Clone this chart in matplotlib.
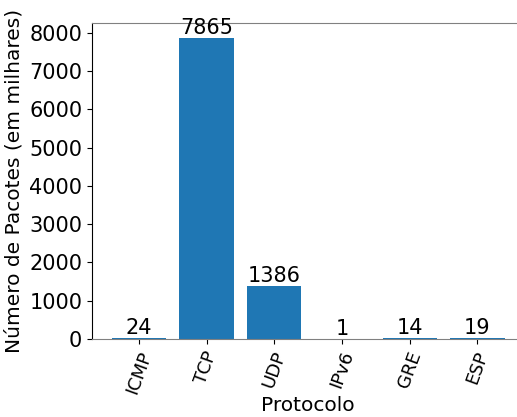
import matplotlib

matplotlib.use("Agg")
import matplotlib.pyplot as plt
from matplotlib.ticker import MultipleLocator
import numpy as np

protocolos = ["ICMP", "TCP", "UDP", "IPv6", "GRE", "ESP"]
pacotes = [24, 7865, 1386, 1, 14, 19]

fig = plt.figure(figsize=(5.17, 4.17), dpi=100)
ax = fig.add_axes([0.178, 0.187, 0.836, 0.758])

x = np.arange(len(protocolos))
bars = ax.bar(x, pacotes, color="#1f77b4")
for rect, v in zip(bars, pacotes):
    ax.text(rect.get_x() + rect.get_width() / 2, rect.get_height(), str(v),
            ha="center", va="bottom", fontsize=15)

ax.set_xticks(x)
ax.set_xticklabels(protocolos, rotation=70, fontsize=13)
ax.yaxis.set_major_locator(MultipleLocator(1000))
ax.tick_params(axis="y", labelsize=15)
ax.set_xlabel("Protocolo", fontsize=14.5, labelpad=0)
ax.set_ylabel("Número de Pacotes (em milhares)", fontsize=14.5)

ax.spines["top"].set_color("#808080")
ax.spines["bottom"].set_color("#808080")
ax.spines["right"].set_visible(False)

fig.savefig("out.png", dpi=100)
